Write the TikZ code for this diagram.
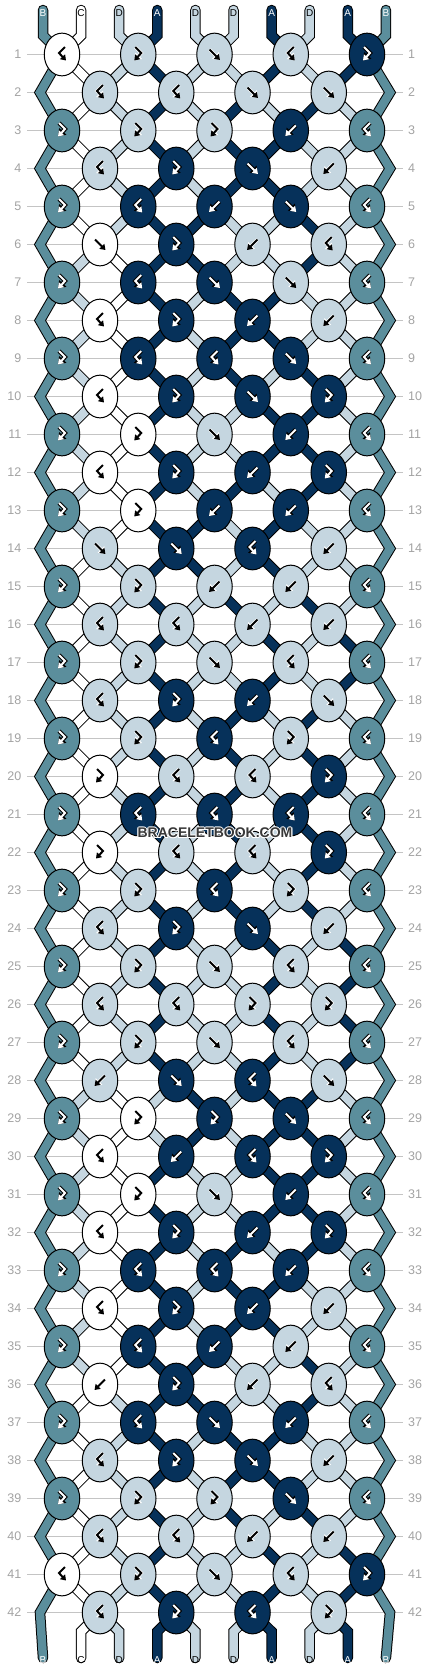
\documentclass[tikz,border=0pt]{standalone}
\usepackage{fontspec}
\setmainfont{Liberation Sans}
\usetikzlibrary{arrows.meta,shapes.geometric}
\pgfdeclarelayer{bg}
\pgfdeclarelayer{strs}
\pgfsetlayers{bg,strs,main}
\definecolor{colA}{HTML}{06315A}
\definecolor{colB}{HTML}{5B8E9C}
\definecolor{colC}{HTML}{FFFFFF}
\definecolor{colD}{HTML}{C5D6E0}
\definecolor{rowline}{HTML}{C4C4C4}
\definecolor{numgray}{HTML}{A3A3A3}
\definecolor{wmgray}{HTML}{383838}
% knot types: 1=forward, 2=backward, 3=forward-backward, 4=backward-forward
\newcommand\rowdef[2]{\expandafter\def\csname row#1\endcsname{#2}}
\rowdef{1}{4,3,1,4,3}
\rowdef{2}{4,4,1,1}
\rowdef{3}{3,3,3,2,4}
\rowdef{4}{4,3,1,2}
\rowdef{5}{3,4,2,1,4}
\rowdef{6}{1,3,2,4}
\rowdef{7}{3,4,1,1,4}
\rowdef{8}{4,3,2,2}
\rowdef{9}{3,4,4,1,4}
\rowdef{10}{4,3,1,3}
\rowdef{11}{3,3,1,2,4}
\rowdef{12}{4,3,2,3}
\rowdef{13}{3,3,2,2,4}
\rowdef{14}{1,1,4,2}
\rowdef{15}{3,3,2,2,4}
\rowdef{16}{4,4,2,2}
\rowdef{17}{3,3,1,4,4}
\rowdef{18}{4,3,2,1}
\rowdef{19}{3,3,4,3,4}
\rowdef{20}{3,4,4,3}
\rowdef{21}{3,4,4,4,4}
\rowdef{22}{3,4,4,3}
\rowdef{23}{3,3,4,3,4}
\rowdef{24}{4,3,1,2}
\rowdef{25}{3,3,1,4,4}
\rowdef{26}{4,4,3,3}
\rowdef{27}{3,3,1,4,4}
\rowdef{28}{2,1,4,1}
\rowdef{29}{3,3,3,1,4}
\rowdef{30}{4,2,4,3}
\rowdef{31}{3,3,1,2,4}
\rowdef{32}{4,3,2,3}
\rowdef{33}{3,4,4,2,4}
\rowdef{34}{4,3,2,2}
\rowdef{35}{3,4,2,2,4}
\rowdef{36}{2,3,2,4}
\rowdef{37}{3,4,1,2,4}
\rowdef{38}{4,3,1,2}
\rowdef{39}{3,3,3,1,4}
\rowdef{40}{4,4,2,2}
\rowdef{41}{4,3,1,4,3}
\rowdef{42}{4,3,4,3}
% initial strings
\expandafter\gdef\csname s1\endcsname{B}
\expandafter\gdef\csname s2\endcsname{C}
\expandafter\gdef\csname s3\endcsname{D}
\expandafter\gdef\csname s4\endcsname{A}
\expandafter\gdef\csname s5\endcsname{D}
\expandafter\gdef\csname s6\endcsname{D}
\expandafter\gdef\csname s7\endcsname{A}
\expandafter\gdef\csname s8\endcsname{D}
\expandafter\gdef\csname s9\endcsname{A}
\expandafter\gdef\csname s10\endcsname{B}
\newcommand\setposx[2]{%
  \ifodd#1\relax
    \pgfmathsetmacro\px{62+76.25*(ceil(#2/2)-1)}%
  \else
    \ifnum#2=1\relax \def\px{40}%
    \else\ifnum#2=10\relax \def\px{390}%
    \else \pgfmathsetmacro\px{100+76.25*(floor(#2/2)-1)}%
    \fi\fi
  \fi}
\newcommand\glyphpath[1]{%
  \ifcase#1\or
    \path[gl] (-5,-5) -- (5.5,5.5);%
  \or
    \path[gl] (5,-5) -- (-5.5,5.5);%
  \or
    \path[gl] (-3,-7.5) -- (3,-1.5) -- (-4,6);%
  \or
    \path[gl] (3,-7.5) -- (-3,-1.5) -- (4,6);%
  \fi}
\begin{document}
\begin{tikzpicture}[x=1pt,y=-1pt,
  str/.style={draw=black,line width=1pt,double=#1,double distance=8.5pt},
  knot/.style={ellipse,draw=black,line width=1pt,minimum width=35.5pt,minimum height=42.7pt,inner sep=0pt},
  rowln/.style={draw=rowline,line width=1pt},
  rownum/.style={text=numgray,font=\fontsize{12.5}{13}\selectfont,inner sep=0pt},
  lbl/.style={font=\fontsize{10}{10}\selectfont,inner sep=0pt},
  wm/.style={font=\fontsize{14}{14}\selectfont\bfseries,inner sep=0pt},
  darkout/.style={draw=black,line width=4.2pt,-{Triangle[length=7pt,width=9.5pt]}},
  darkin/.style={draw=white,line width=2pt,-{Triangle[length=5.2pt,width=6.8pt]}},
  lightout/.style={draw=white,line width=3.4pt,-{Triangle[length=6.5pt,width=9pt]}},
  lightin/.style={draw=black,line width=2pt,-{Triangle[length=5.2pt,width=6.8pt]}}]
\useasboundingbox (0,0) rectangle (430,1668);
\begin{pgfonlayer}{bg}
\fill[white] (0,0) rectangle (430,1668);
\end{pgfonlayer}
% coordinates
\foreach \rr in {1,...,42}{
  \foreach \ii in {1,...,10}{
    \setposx{\rr}{\ii}
    \pgfmathsetmacro\py{54.5+38*(\rr-1)}
    \coordinate (P-\rr-\ii) at (\px,\py);
  }
}
\foreach \ii in {1,...,10}{
  \pgfmathsetmacro\tx{43+38.1*(\ii-1)}
  \coordinate (Tend-\ii) at (\tx,10);
  \coordinate (T-\ii) at (\tx,35.5);
  \coordinate (Bt-\ii) at (\tx,1631.5);
  \coordinate (Bend-\ii) at (\tx,1658);
}
% row lines and numbers
\foreach \rr in {1,...,42}{
  \pgfmathsetmacro\py{54.5+38*(\rr-1)}
  \coordinate (RL-\rr) at (27,\py);
  \coordinate (RR-\rr) at (403,\py);
  \begin{pgfonlayer}{bg}
  \draw[rowln] (RL-\rr) -- (RR-\rr);
  \end{pgfonlayer}
  \node[rownum,anchor=east] (NL-\rr) at (21.5,\py) {\rr};
  \node[rownum,anchor=west] (NR-\rr) at (408,\py) {\rr};
}
% top strings and labels
\foreach \ii in {1,...,10}{
  \edef\sc{\csname s\ii\endcsname}
  \begin{pgfonlayer}{strs}
  \draw[str=col\sc,line cap=round] (Tend-\ii) -- (T-\ii) -- (P-1-\ii);
  \end{pgfonlayer}
  \if\sc A\def\lt{white}\else\if\sc B\def\lt{white}\else\def\lt{black}\fi\fi
  \node[lbl,text=\lt] (TL-\ii) at ([yshift=-3pt]Tend-\ii) {\sc};
}
% knots and strings
\foreach \rr in {1,...,42}{
  \ifodd\rr\relax\def\off{0}\else\def\off{1}\fi
  \expandafter\let\expandafter\types\csname row\rr\endcsname
  \foreach \tp [count=\kk] in \types {
    \pgfmathtruncatemacro\li{2*\kk-1+\off}
    \pgfmathtruncatemacro\ri{\li+1}
    \edef\lc{\csname s\li\endcsname}
    \edef\rc{\csname s\ri\endcsname}
    \ifcase\tp\or\let\kc\lc\or\let\kc\rc\or\let\kc\lc\or\let\kc\rc\fi
    \ifnum\tp<3
      \expandafter\xdef\csname s\li\endcsname{\rc}%
      \expandafter\xdef\csname s\ri\endcsname{\lc}%
    \fi
    \node[knot,fill=col\kc] (K-\rr-\kk) at (P-\rr-\li) {};
    \if\kc A\def\dk{1}\else\if\kc B\def\dk{1}\else\def\dk{0}\fi\fi
    \begin{scope}[shift={(P-\rr-\li)}]
      \ifnum\dk=1
        \tikzset{gl/.style={darkout}}\glyphpath{\tp}
        \tikzset{gl/.style={darkin}}\glyphpath{\tp}
      \else
        \tikzset{gl/.style={lightout}}\glyphpath{\tp}
        \tikzset{gl/.style={lightin}}\glyphpath{\tp}
      \fi
    \end{scope}
  }
  \pgfmathtruncatemacro\rn{\rr+1}
  \pgfmathtruncatemacro\rnn{\rr+2}
  \begin{pgfonlayer}{strs}
  \foreach \ii in {1,...,10}{
    \edef\sc{\csname s\ii\endcsname}
    \ifnum\ii=1 \def\isedge{1}\else\ifnum\ii=10 \def\isedge{1}\else\def\isedge{0}\fi\fi
    \ifnum\isedge=1
      \ifodd\rr\relax
        \ifnum\rr<41
          \draw[str=col\sc] (P-\rr-\ii) -- (P-\rn-\ii) -- (P-\rnn-\ii);
        \else
          \draw[str=col\sc,line cap=round] (P-\rr-\ii) -- (P-\rn-\ii) -- (Bend-\ii);
        \fi
      \fi
    \else
      \ifnum\rr<42
        \draw[str=col\sc] (P-\rr-\ii) -- (P-\rn-\ii);
      \else
        \draw[str=col\sc,line cap=round] (P-\rr-\ii) -- (Bt-\ii) -- (Bend-\ii);
      \fi
    \fi
  }
  \end{pgfonlayer}
}
% bottom labels
\foreach \ii in {1,...,10}{
  \edef\sc{\csname s\ii\endcsname}
  \if\sc A\def\lt{white}\else\if\sc B\def\lt{white}\else\def\lt{black}\fi\fi
  \node[lbl,text=\lt] (BL-\ii) at ([yshift=-2pt]Bend-\ii) {\sc};
}
% watermark
\foreach \dx/\dy in {-1/0,1/0,0/-1,0/1,-0.8/-0.8,0.8/0.8,-0.8/0.8,0.8/-0.8}{
  \node[wm,text=white] at (215+\dx,833+\dy) {BRACELETBOOK.COM};
}
\node[wm,text=wmgray] (wm) at (215,833) {BRACELETBOOK.COM};
\end{tikzpicture}
\end{document}
